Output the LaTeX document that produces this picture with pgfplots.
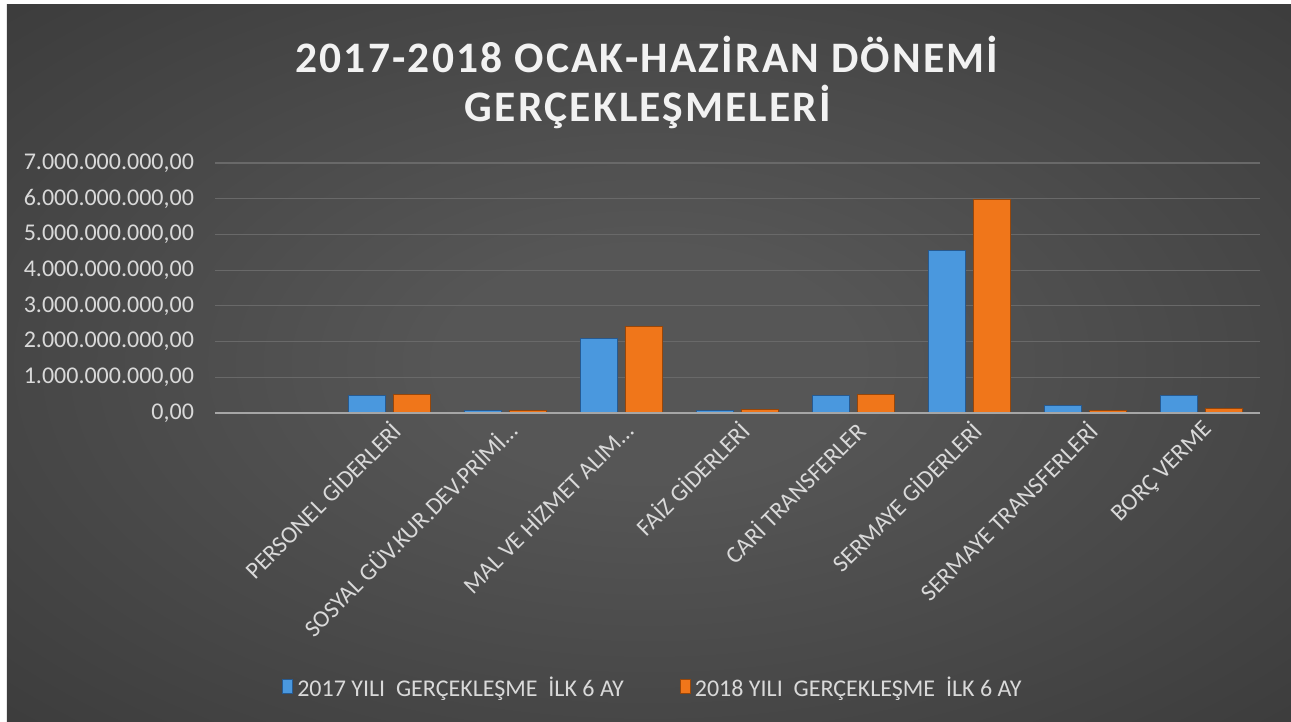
\documentclass[border=0pt]{standalone}
\usepackage{fontspec}
\setmainfont{Carlito}
\newfontfamily\titlefont[LetterSpace=5]{Carlito}
\usepackage{pgfplots}
\pgfplotsset{compat=1.18}
\definecolor{bgin}{RGB}{86,86,86}
\definecolor{bgout}{RGB}{36,36,36}
\definecolor{txt}{RGB}{217,217,217}
\definecolor{titlec}{RGB}{242,242,242}
\definecolor{gridc}{RGB}{105,105,105}
\definecolor{axc}{RGB}{166,166,166}
\definecolor{blueb}{RGB}{74,152,222}
\definecolor{blued}{RGB}{38,90,145}
\definecolor{orangeb}{RGB}{240,118,26}
\definecolor{oranged}{RGB}{150,70,10}
\pgfdeclareradialshading{bgshade}{\pgfpoint{0bp}{0bp}}{color(0bp)=(bgin); color(8bp)=(bgin); color(62bp)=(bgout); color(72bp)=(bgout)}
\begin{document}
\begin{tikzpicture}
\useasboundingbox (-107.5pt,-154.5pt) rectangle (538pt,206.5pt);
\fill[white] (-107.5pt,-154.5pt) rectangle (538pt,206.5pt);
\shade[shading=bgshade] (-104pt,-154.5pt) rectangle (538pt,204pt);
\begin{axis}[
  at={(0,0)}, anchor=south west, scale only axis,
  width=522.5pt, height=125pt,
  xmin=-0.5, xmax=8.5, ymin=0, ymax=7000000000,
  ybar=4pt, bar width=18.5pt,
  xtick={0,1,2,3,4,5,6,7,8},
  xticklabels={{},PERSONEL GİDERLERİ,SOSYAL GÜV.KUR.DEV.PRİMİ…,MAL VE HİZMET ALIM…,FAİZ GİDERLERİ,CARİ TRANSFERLER,SERMAYE GİDERLERİ,SERMAYE TRANSFERLERİ,BORÇ VERME},
  ytick={0,1000000000,2000000000,3000000000,4000000000,5000000000,6000000000,7000000000},
  yticklabels={{0,00},{1.000.000.000,00},{2.000.000.000,00},{3.000.000.000,00},{4.000.000.000,00},{5.000.000.000,00},{6.000.000.000,00},{7.000.000.000,00}},
  scaled y ticks=false,
  major tick length=0pt,
  ymajorgrids, grid style={draw=gridc, line width=0.6pt},
  axis line style={draw=none},
  tick label style={font=\fontsize{12}{14}\selectfont, text=txt},
  xticklabel style={rotate=45, anchor=north east, inner sep=2pt},
  yticklabel style={xshift=-7pt},
  legend style={at={(0.42,-1.1)}, anchor=center, draw=none, fill=none, legend columns=2,
    font=\fontsize{12}{14}\selectfont, text=txt,
    /tikz/every even column/.append style={column sep=26pt}},
  legend image code/.code={\fill[#1] (0pt,-3pt) rectangle (5pt,4pt);},
  clip=false,
]
\addplot[fill=blueb, draw=blued, line width=0.5pt] coordinates {(1,500000000) (2,80000000) (3,2100000000) (4,80000000) (5,480000000) (6,4540000000) (7,200000000) (8,480000000)};
\addplot[fill=orangeb, draw=oranged, line width=0.5pt] coordinates {(1,530000000) (2,80000000) (3,2410000000) (4,110000000) (5,530000000) (6,5970000000) (7,80000000) (8,140000000)};
\legend{2017 YILI\ \ GERÇEKLEŞME\ \ İLK 6 AY, 2018 YILI\ \ GERÇEKLEŞME\ \ İLK 6 AY}
\draw[axc, line width=1pt] (axis cs:-0.5,0) -- (axis cs:8.5,0);
\end{axis}
\node[anchor=base, text=titlec, font=\titlefont\bfseries\fontsize{21.75}{26}\selectfont] at (216pt,170pt) {2017-2018 OCAK-HAZİRAN DÖNEMİ};
\node[anchor=base, text=titlec, font=\titlefont\bfseries\fontsize{21.75}{26}\selectfont] at (216.5pt,145.5pt) {GERÇEKLEŞMELERİ};
\end{tikzpicture}
\end{document}
